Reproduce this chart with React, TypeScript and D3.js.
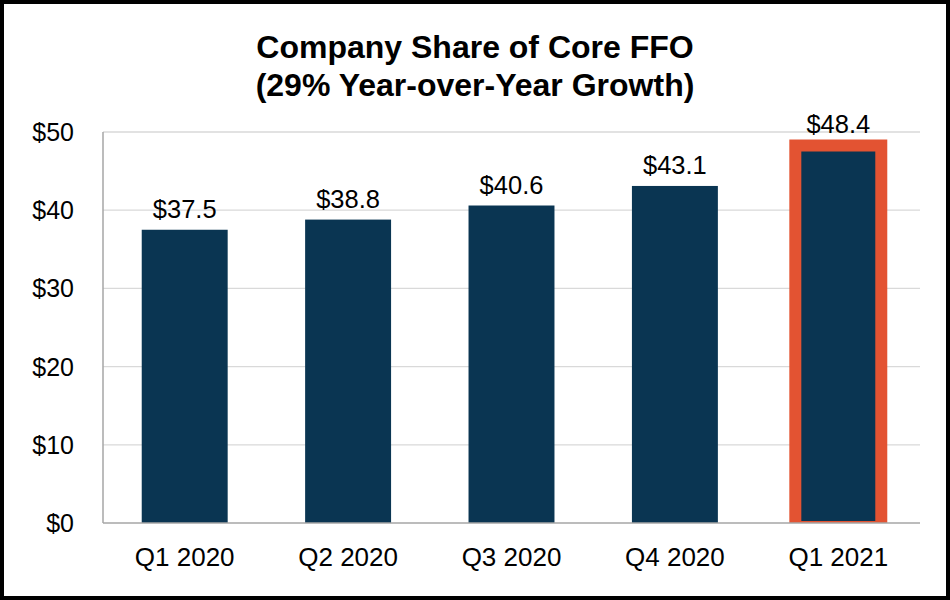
import { useEffect, useRef } from 'react'
import * as d3 from 'd3'

const quarters = ['Q1 2020', 'Q2 2020', 'Q3 2020', 'Q4 2020', 'Q1 2021']
const coreFfo = [37.5, 38.8, 40.6, 43.1, 48.4]
const yTicks = [0, 10, 20, 30, 40, 50]
const highlighted = 'Q1 2021'
const titleLines = ['Company Share of Core FFO', '(29% Year-over-Year Growth)']

export default function App() {
  const svgRef = useRef<SVGSVGElement>(null)

  useEffect(() => {
    if (!svgRef.current) return
    const width = 950
    const height = 600
    const navy = '#0a3552'
    const orange = '#e35332'
    const font = 'Arial, "Liberation Sans", sans-serif'

    const svg = d3.select(svgRef.current)
    svg.selectAll('*').remove()
    svg.attr('width', width).attr('height', height)

    svg.append('rect')
      .attr('width', width).attr('height', height)
      .attr('fill', '#fff')

    // Title
    svg.append('g')
      .selectAll('text')
      .data(titleLines)
      .enter().append('text')
      .attr('x', 475)
      .attr('y', (_, i) => 58 + i * 38)
      .attr('text-anchor', 'middle')
      .attr('font-family', font)
      .attr('font-weight', 'bold')
      .attr('font-size', 32)
      .attr('fill', '#000')
      .text(d => d)

    const x = d3.scaleBand<string>()
      .domain(quarters)
      .range([103, 920])
      .paddingInner(0.474)
      .paddingOuter(0.237)

    const y = d3.scaleLinear()
      .domain([0, 50])
      .range([523, 132])

    // Gridlines
    svg.append('g')
      .selectAll('line')
      .data(yTicks.filter(t => t > 0))
      .enter().append('line')
      .attr('x1', 103).attr('x2', 920)
      .attr('y1', d => y(d)).attr('y2', d => y(d))
      .attr('stroke', '#d9d9d9')
      .attr('stroke-width', 1.3)

    // Y tick labels
    svg.append('g')
      .selectAll('text')
      .data(yTicks)
      .enter().append('text')
      .attr('x', 74)
      .attr('y', d => y(d) + 9)
      .attr('text-anchor', 'end')
      .attr('font-family', font)
      .attr('font-size', 25)
      .attr('fill', '#000')
      .text(d => `$${d}`)

    // Bars
    const stroke = 12
    const bars = svg.append('g')
    quarters.forEach((q, i) => {
      const v = coreFfo[i]
      const x0 = x(q) as number
      const bw = x.bandwidth()
      if (q === highlighted) {
        bars.append('rect')
          .attr('x', x0 - stroke / 2)
          .attr('y', y(v) - 5)
          .attr('width', bw + stroke)
          .attr('height', y(0) - y(v) + 5)
          .attr('fill', orange)
        bars.append('rect')
          .attr('x', x0 + stroke / 2)
          .attr('y', y(v) + 7)
          .attr('width', bw - stroke)
          .attr('height', y(0) - y(v) - 9)
          .attr('fill', navy)
      } else {
        bars.append('rect')
          .attr('x', x0)
          .attr('y', y(v))
          .attr('width', bw)
          .attr('height', y(0) - y(v))
          .attr('fill', navy)
      }
    })

    // Value labels
    svg.append('g')
      .selectAll('text')
      .data(quarters)
      .enter().append('text')
      .attr('x', d => (x(d) as number) + x.bandwidth() / 2)
      .attr('y', (_, i) => y(coreFfo[i]) - 12)
      .attr('text-anchor', 'middle')
      .attr('font-family', font)
      .attr('font-size', 25.5)
      .attr('fill', '#000')
      .text((_, i) => `$${coreFfo[i].toFixed(1)}`)

    // Axis lines
    svg.append('line')
      .attr('x1', 103).attr('x2', 103)
      .attr('y1', y(50)).attr('y2', y(0))
      .attr('stroke', '#a6a6a6').attr('stroke-width', 1.5)
    svg.append('line')
      .attr('x1', 103).attr('x2', 920)
      .attr('y1', y(0)).attr('y2', y(0))
      .attr('stroke', '#a6a6a6').attr('stroke-width', 1.5)

    // X labels
    svg.append('g')
      .selectAll('text')
      .data(quarters)
      .enter().append('text')
      .attr('x', d => (x(d) as number) + x.bandwidth() / 2)
      .attr('y', 566)
      .attr('text-anchor', 'middle')
      .attr('font-family', font)
      .attr('font-size', 26)
      .attr('fill', '#000')
      .text(d => d)

    // Outer frame
    svg.append('rect')
      .attr('x', 2).attr('y', 2)
      .attr('width', width - 4).attr('height', height - 4)
      .attr('fill', 'none')
      .attr('stroke', '#000')
      .attr('stroke-width', 4)
  }, [])

  return (
    <div style={{ position: 'absolute', top: 0, left: 0 }}>
      <svg ref={svgRef} style={{ display: 'block' }} />
    </div>
  )
}
